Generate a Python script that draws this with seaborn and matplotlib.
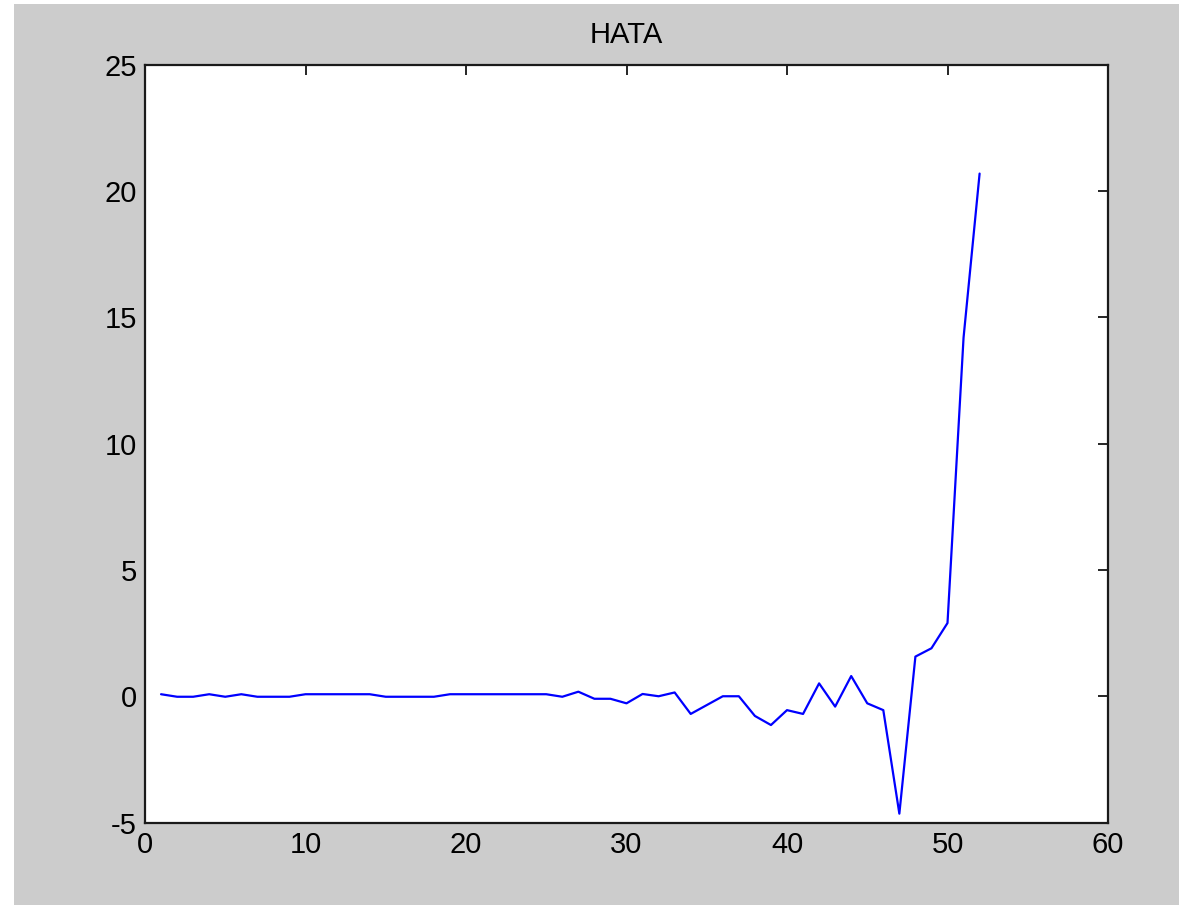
import matplotlib
matplotlib.use("Agg")
import matplotlib.pyplot as plt
import seaborn as sns
import numpy as np
from matplotlib.patches import Rectangle

# data
x_vals = list(range(1, 53))
y_vals = [0.08, -0.02, -0.02, 0.08, -0.02, 0.08, -0.02, -0.02, -0.02, 0.08,
          0.08, 0.08, 0.08, 0.08, -0.02, -0.02, -0.02, -0.02, 0.08, 0.08,
          0.08, 0.08, 0.08, 0.08, 0.08, -0.02, 0.18, -0.10, -0.10, -0.28,
          0.09, 0.00, 0.15, -0.70, -0.35, 0.00, 0.00, -0.78, -1.14, -0.55,
          -0.70, 0.51, -0.41, 0.80, -0.28, -0.55, -4.65, 1.57, 1.90, 2.90,
          14.2, 20.7]
x_ticks = [0, 10, 20, 30, 40, 50, 60]
y_ticks = [-5, 0, 5, 10, 15, 20, 25]

sns.set_style("white")
plt.rcParams['font.family'] = ['Liberation Sans', 'DejaVu Sans']
plt.rcParams['axes.unicode_minus'] = False
plt.rcParams['text.color'] = 'black'

fig = plt.figure(figsize=(11.79, 9.05), dpi=100, facecolor='white')
# grey figure background, with thin white strip left and top
fig.patches.append(Rectangle((14 / 1179, 0), 1, (905 - 4) / 905,
                             transform=fig.transFigure, facecolor='#cccccc',
                             edgecolor='none', zorder=-10))

ax = fig.add_axes([145 / 1179, 82.5 / 905, 963 / 1179, 757.5 / 905])
ax.set_facecolor('white')

sns.lineplot(x=x_vals, y=y_vals, color='#0000ff', linewidth=1.6, ax=ax)

ax.set_xlim(0, 60)
ax.set_ylim(-5, 25)
ax.set_xticks(x_ticks)
ax.set_yticks(y_ticks)
ax.tick_params(direction='in', length=7.5, width=1.2, top=True, right=True,
               labelsize=21, colors='black', pad=6)
for s in ax.spines.values():
    s.set_visible(True)
    s.set_color('#1a1a1a')
    s.set_linewidth(1.6)

ax.set_title("HATA", fontsize=21, pad=16, color='black')
ax.set_xlabel("")
ax.set_ylabel("")

plt.savefig("out.png", dpi=100, facecolor=fig.get_facecolor())
plt.close()
